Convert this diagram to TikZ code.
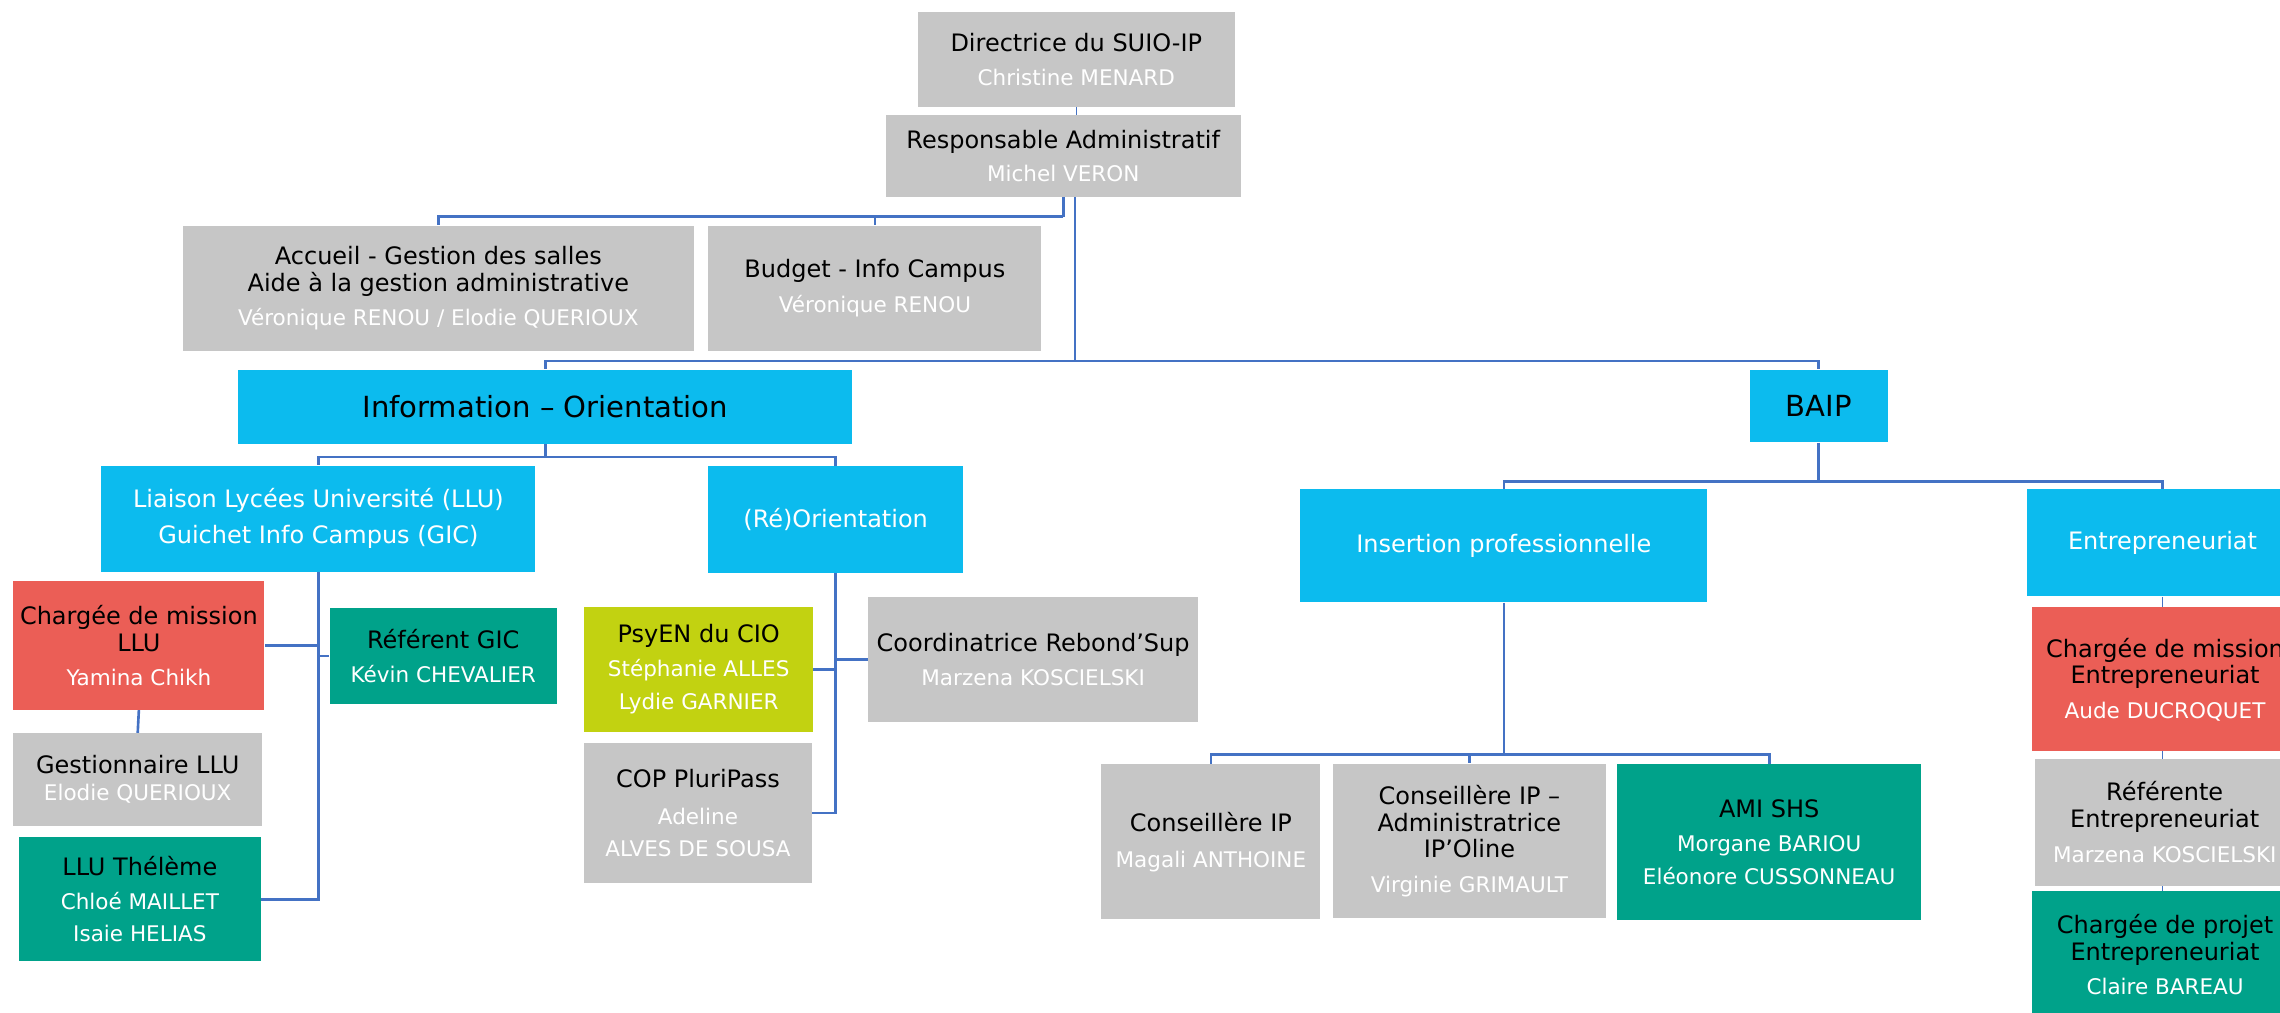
\documentclass[tikz,border=0pt]{standalone}
\usepackage{fontspec}
\setmainfont{DejaVu Sans}
\usetikzlibrary{backgrounds}
\definecolor{cgray}{RGB}{198,198,198}
\definecolor{ccyan}{RGB}{12,187,238}
\definecolor{cred}{RGB}{235,94,86}
\definecolor{cteal}{RGB}{0,162,138}
\definecolor{cyel}{RGB}{194,210,17}
\definecolor{cline}{RGB}{68,114,196}
\newcommand\nmtxt[1]{{\color{white}\fontsize{14.8}{18.5}\selectfont #1}}
\tikzset{
  bx/.style={rectangle, inner sep=0pt, align=center, anchor=north west,
    font=\fontsize{16.5}{18.5}\selectfont, text=black},
  gbox/.style={bx, fill=cgray},
  cbox/.style={bx, fill=ccyan},
  rbox/.style={bx, fill=cred},
  tbox/.style={bx, fill=cteal},
  ybox/.style={bx, fill=cyel},
  conn/.style={draw=cline, line width=1.8pt},
  thinconn/.style={draw=cline, line width=0.9pt},
}
\begin{document}
\begin{tikzpicture}[x=1pt,y=-1pt]
\useasboundingbox (0,0) rectangle (1568,696);
\clip (0,0) rectangle (1568,696);

% level 0-1
\node[gbox, minimum width=218pt, minimum height=65.5pt] (dir) at (631,8)
  {Directrice du SUIO-IP\\[4.5pt]\nmtxt{Christine MENARD}};
\node[gbox, minimum width=244pt, minimum height=56pt] (resp) at (609,79)
  {Responsable Administratif\\[4.5pt]\nmtxt{Michel VERON}};

\node[gbox, minimum width=351.5pt, minimum height=86pt] (acc) at (125.5,155)
  {Accueil - Gestion des salles\\Aide à la gestion administrative\\[4.5pt]\nmtxt{Véronique RENOU / Elodie QUERIOUX}};
\node[gbox, minimum width=229pt, minimum height=86pt] (bud) at (487,155)
  {Budget - Info Campus\\[5pt]\nmtxt{Véronique RENOU}};

% level 2
\node[cbox, minimum width=422.5pt, minimum height=51pt, font=\fontsize{20}{22}\selectfont] (info) at (163.5,254)
  {Information – Orientation};
\node[cbox, minimum width=95pt, minimum height=50pt, font=\fontsize{20}{22}\selectfont] (baip) at (1203,254)
  {BAIP};

% level 3
\node[cbox, text=white, minimum width=298.5pt, minimum height=73pt] (llu) at (69.5,320)
  {Liaison Lycées Université (LLU)\\[6pt]Guichet Info Campus (GIC)};
\node[cbox, text=white, minimum width=175pt, minimum height=73.5pt] (reo) at (487,320.5)
  {(Ré)Orientation};
\node[cbox, text=white, minimum width=280pt, minimum height=78pt] (ins) at (894,336)
  {Insertion professionnelle};
\node[cbox, text=white, minimum width=186pt, minimum height=74pt] (ent) at (1394,336)
  {Entrepreneuriat};

% LLU branch
\node[rbox, minimum width=172.6pt, minimum height=88.5pt] (cml) at (9,399.5)
  {Chargée de mission\\LLU\\[5pt]\nmtxt{Yamina Chikh}};
\node[tbox, minimum width=156pt, minimum height=66pt] (gic) at (226.6,418)
  {Référent GIC\\[4.5pt]\nmtxt{Kévin CHEVALIER}};
\node[gbox, minimum width=171pt, minimum height=64pt] (gest) at (9,504)
  {Gestionnaire LLU\\\nmtxt{Elodie QUERIOUX}};
\node[tbox, minimum width=166pt, minimum height=85.5pt] (thel) at (13,575.5)
  {LLU Thélème\\[5pt]\nmtxt{Chloé MAILLET}\\[3.5pt]\nmtxt{Isaie HELIAS}};

% (Ré)Orientation branch
\node[ybox, minimum width=157.4pt, minimum height=85.5pt] (psy) at (401.6,417.5)
  {PsyEN du CIO\\[4.5pt]\nmtxt{Stéphanie ALLES}\\[4.5pt]\nmtxt{Lydie GARNIER}};
\node[gbox, minimum width=156.4pt, minimum height=96pt] (cop) at (401.6,511)
  {COP PluriPass\\[6.5pt]\nmtxt{Adeline}\\[3.5pt]\nmtxt{ALVES DE SOUSA}};
\node[gbox, minimum width=226.6pt, minimum height=85.8pt] (coord) at (597,410.5)
  {Coordinatrice Rebond’Sup\\[4.5pt]\nmtxt{Marzena KOSCIELSKI}};

% Insertion branch
\node[gbox, minimum width=150.5pt, minimum height=106.5pt] (cip) at (757.3,525.5)
  {Conseillère IP\\[6pt]\nmtxt{Magali ANTHOINE}};
\node[gbox, minimum width=187.3pt, minimum height=106pt] (adm) at (916.7,525)
  {Conseillère IP –\\Administratrice\\IP’Oline\\[5pt]\nmtxt{Virginie GRIMAULT}};
\node[tbox, minimum width=209pt, minimum height=107pt] (ami) at (1112,525.5)
  {AMI SHS\\[5pt]\nmtxt{Morgane BARIOU}\\[4pt]\nmtxt{Eléonore CUSSONNEAU}};

% Entrepreneuriat branch
\node[rbox, minimum width=182.5pt, minimum height=99pt] (cme) at (1397.5,417.5)
  {Chargée de mission\\Entrepreneuriat\\[5pt]\nmtxt{Aude DUCROQUET}};
\node[gbox, minimum width=179pt, minimum height=87.3pt] (ref) at (1399,521.5)
  {Référente\\Entrepreneuriat\\[5pt]\nmtxt{Marzena KOSCIELSKI}};
\node[tbox, minimum width=182.5pt, minimum height=87.3pt] (cpe) at (1397.5,612.7)
  {Chargée de projet\\Entrepreneuriat\\[5pt]\nmtxt{Claire BAREAU}};

\begin{pgfonlayer}{background}
  % top
  \draw[thinconn] (dir.south) -- (dir.south |- resp.north);
  \draw[conn] (resp.south) -- ++(0,13.5) coordinate (j1);
  \draw[conn] (j1) -| (acc.north);
  \draw[conn] (j1) -| (bud.north);
  \draw[conn] ([xshift=8pt]resp.south) -- ++(0,112.8) coordinate (j2);
  \draw[conn] (j2) -| (info.north);
  \draw[conn] (j2) -| (baip.north);
  % info
  \draw[conn] (info.south) -- ++(0,9) coordinate (j3);
  \draw[conn] (j3) -| (llu.north);
  \draw[conn] (j3) -| (reo.north);
  % baip
  \draw[conn] (baip.south) -- ++(0,26.6) coordinate (j4);
  \draw[conn] (j4) -| (ins.north);
  \draw[conn] (j4) -| (ent.north);
  % llu
  \draw[conn] (llu.south) |- (thel.east);
  \draw[conn] (llu.south |- cml.east) -- (cml.east);
  \draw[conn] (llu.south |- gic.west) -- (gic.west);
  \draw[conn] (cml.south) -- (gest.north);
  % reo
  \draw[conn] (reo.south) |- (cop.east);
  \draw[conn] (reo.south |- psy.east) -- (psy.east);
  \draw[conn] (reo.south |- coord.west) -- (coord.west);
  % ins
  \draw[conn] (ins.south) -- ++(0,104.5) coordinate (j5);
  \draw[conn] (j5) -| (cip.north);
  \draw[conn] (j5) -| (adm.north);
  \draw[conn] (j5) -| (ami.north);
  % ent
  \draw[thinconn] (ent.south) -- (ent.south |- cpe.north);
\end{pgfonlayer}
\end{tikzpicture}
\end{document}
